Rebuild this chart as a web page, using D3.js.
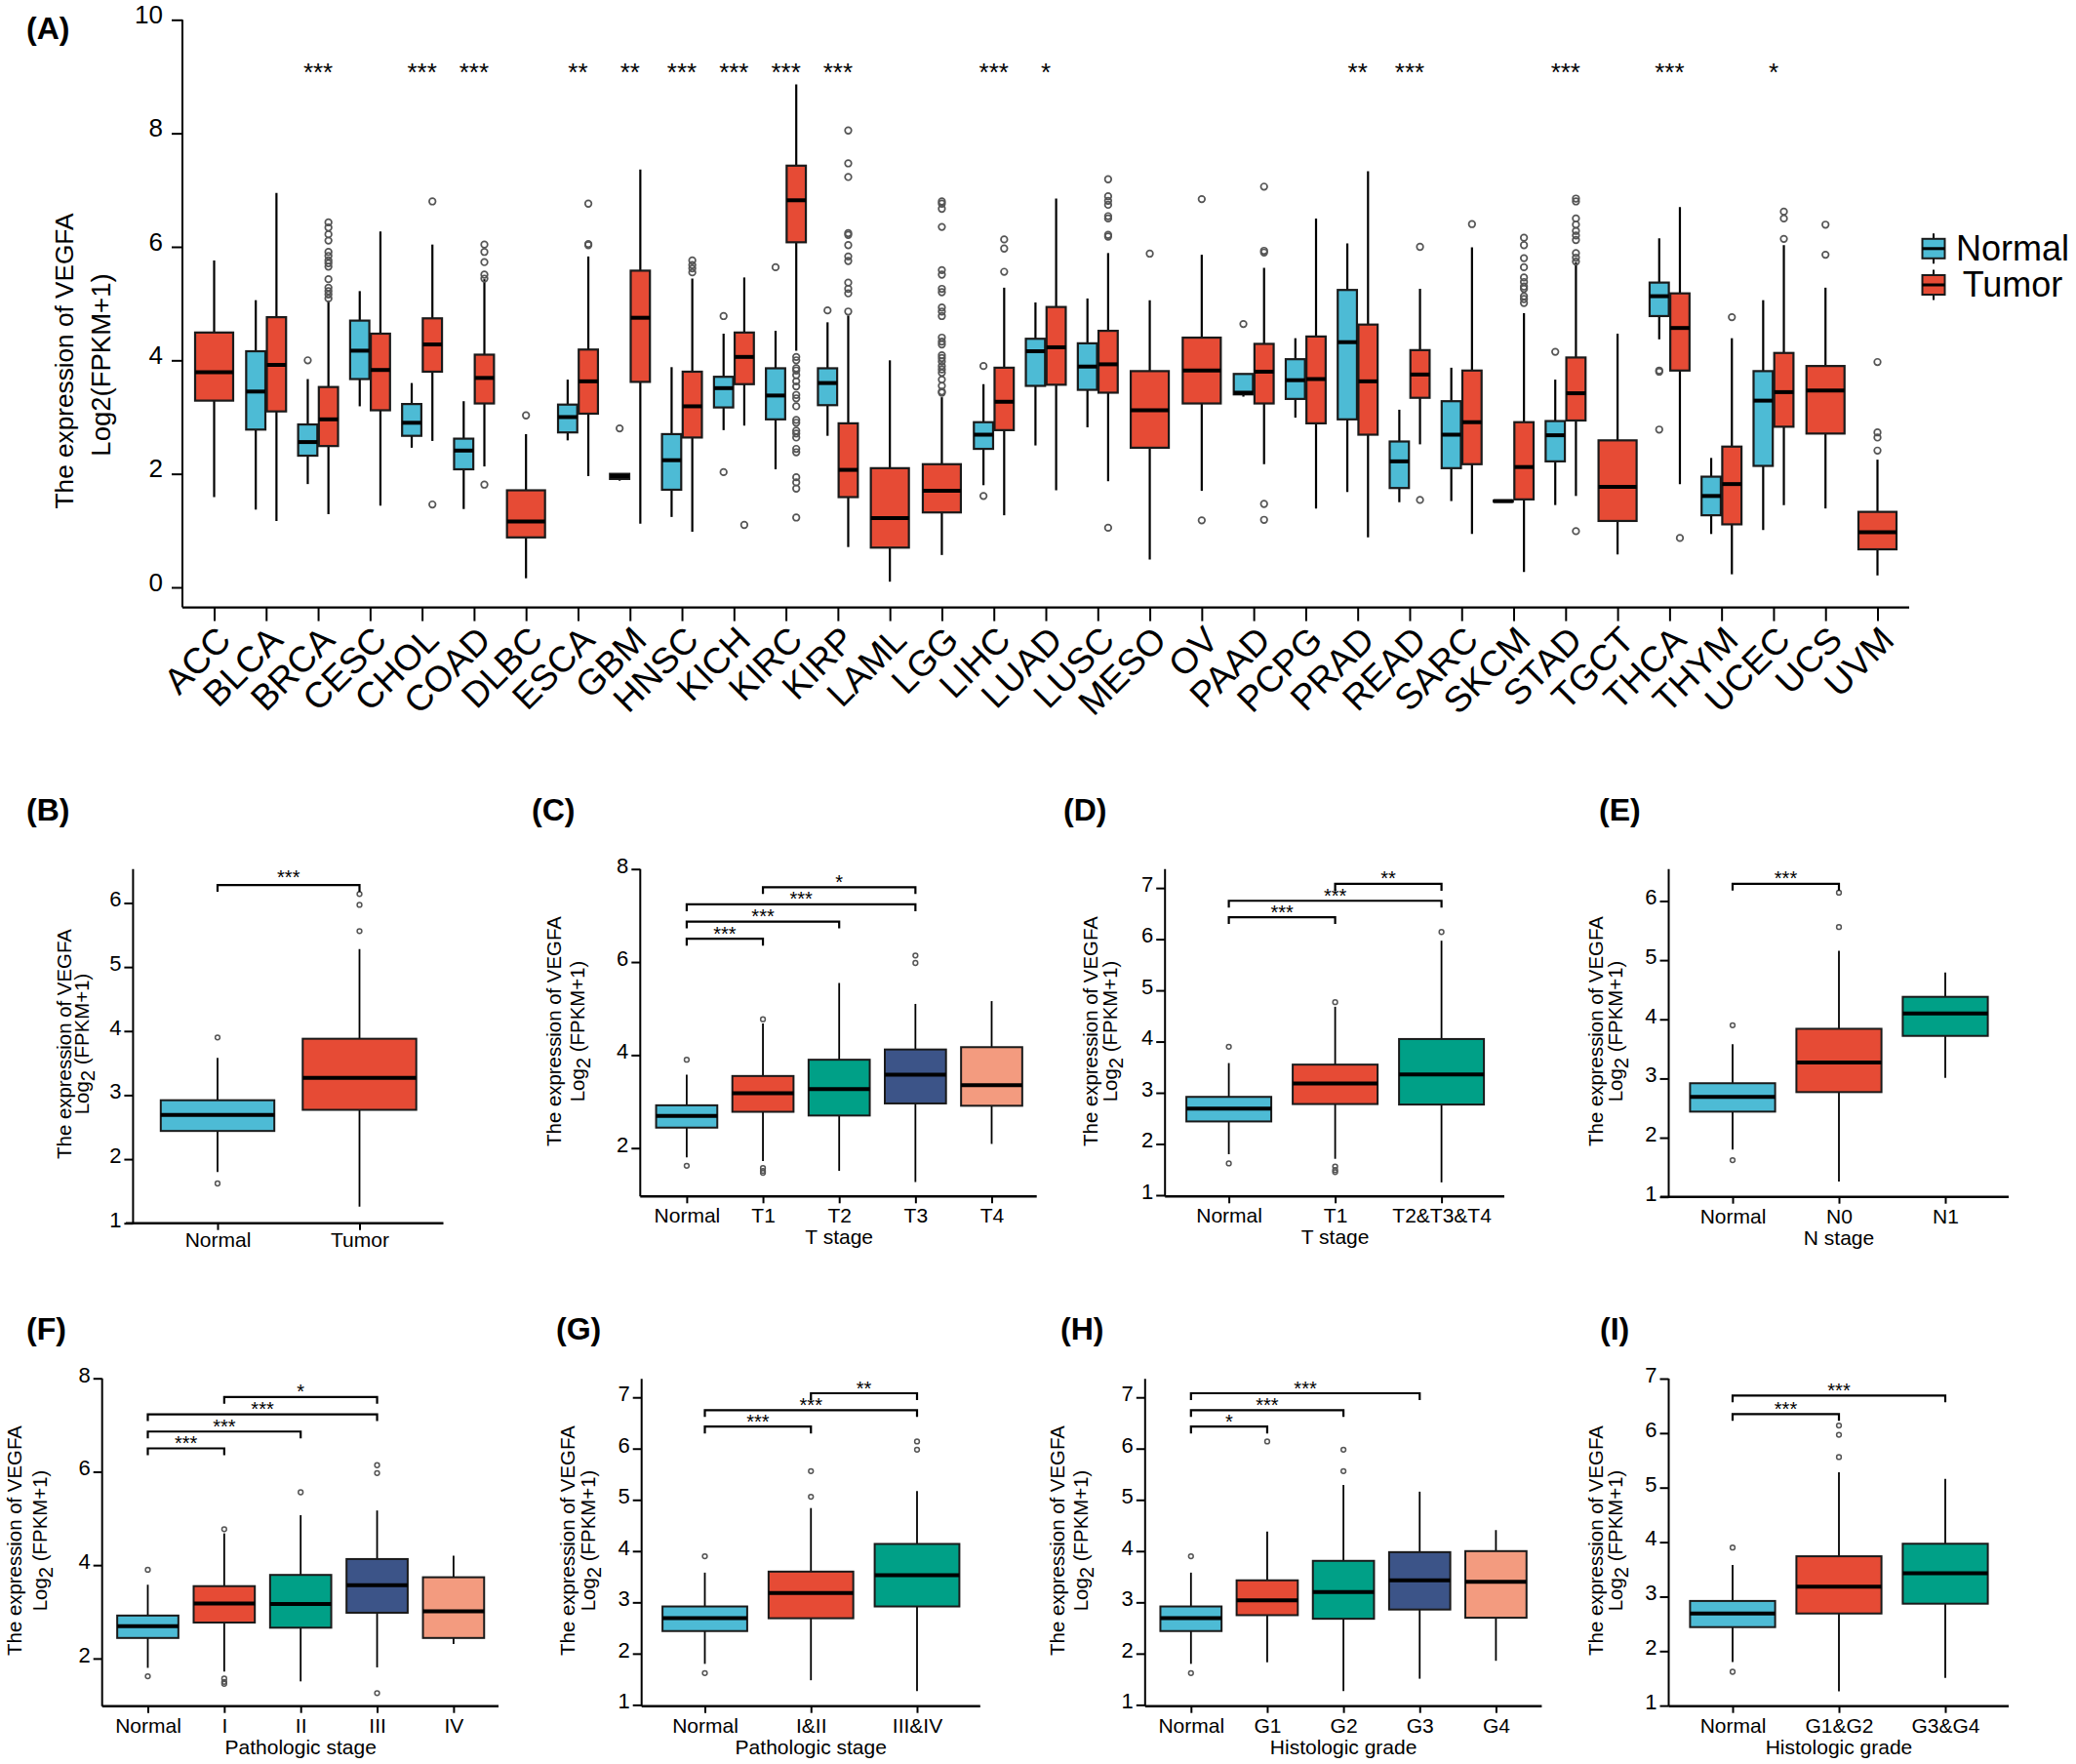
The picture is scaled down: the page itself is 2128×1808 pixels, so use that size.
<!DOCTYPE html>
<html lang="en">
<head>
  <meta charset="UTF-8">
  <title>VEGFA expression</title>
  <script src="https://d3js.org/d3.v7.min.js"></script>
  <style>
    body { margin: 0; background: #fff; }
    svg { display: block; font-family: "Liberation Sans", Arial, sans-serif; }
    .domain { display: none; }
    .tick line { stroke: #000; stroke-width: 2; }
    .tick text { fill: #000; }
  </style>
</head>
<body>
  <svg id="chart" width="2128" height="1808"></svg>
  <script>
    // box = [low whisker, q1, median, q3, high whisker, [outliers]]
    const cancers = ["ACC","BLCA","BRCA","CESC","CHOL","COAD","DLBC","ESCA","GBM","HNSC","KICH","KIRC","KIRP","LAML","LGG","LIHC","LUAD","LUSC","MESO","OV","PAAD","PCPG","PRAD","READ","SARC","SKCM","STAD","TGCT","THCA","THYM","UCEC","UCS","UVM"];
    const cancerStars = ["","","***","","***","***","","**","**","***","***","***","***","","","***","*","","","","","","**","***","","","***","","***","","*","",""];
    const cancerNormal = [
      null,
      [1.37,2.78,3.45,4.16,5.06,[]],
      [1.82,2.32,2.56,2.87,3.67,[4.0]],
      [3.19,3.67,4.17,4.70,5.22,[]],
      [2.46,2.67,2.90,3.23,3.60,[]],
      [1.38,2.08,2.41,2.62,3.28,[]],
      null,
      [2.59,2.73,3.00,3.22,3.66,[]],
      [1.88,1.91,1.96,2.00,2.00,[2.80]],
      [1.24,1.72,2.24,2.70,3.88,[]],
      [2.77,3.17,3.51,3.71,4.47,[4.78,2.03]],
      [2.08,2.96,3.38,3.86,4.52,[5.64]],
      [2.67,3.21,3.60,3.86,4.67,[4.88]],
      null,
      null,
      [1.80,2.44,2.69,2.91,3.58,[3.90,1.61]],
      [2.50,3.55,4.16,4.38,5.02,[]],
      [2.82,3.48,3.89,4.30,5.09,[]],
      null,
      null,
      [3.36,3.40,3.43,3.76,3.76,[4.64]],
      [2.99,3.32,3.65,4.02,4.39,[]],
      [1.68,2.96,4.32,5.24,6.06,[]],
      [1.50,1.75,2.22,2.57,3.13,[]],
      [1.52,2.10,2.69,3.28,3.87,[]],
      [1.50,1.51,1.52,1.53,1.54,[]],
      [1.45,2.22,2.68,2.93,3.66,[4.15]],
      null,
      [4.37,4.78,5.13,5.37,6.15,[3.82,3.80,2.78]],
      [0.94,1.27,1.61,1.95,2.28,[]],
      [1.01,2.14,3.29,3.81,5.06,[]],
      null,
      null
    ];
    const cancerTumor = [
      [1.59,3.29,3.79,4.49,5.76,[]],
      [1.17,3.10,3.92,4.76,6.95,[]],
      [1.29,2.49,2.96,3.53,5.05,[6.43,6.34,6.22,6.11,5.91,5.84,5.76,5.71,5.65,5.43,5.28,5.22,5.16,5.09]],
      [1.44,3.12,3.83,4.47,6.27,[]],
      [2.58,3.80,4.28,4.74,6.04,[6.80,1.46]],
      [2.13,3.24,3.69,4.10,5.43,[6.04,5.91,5.73,5.51,5.44,1.81]],
      [0.16,0.88,1.16,1.71,2.70,[3.03]],
      [1.96,3.06,3.63,4.19,5.83,[6.76,6.05,6.03]],
      [1.12,3.62,4.75,5.58,7.36,[]],
      [0.98,2.64,3.19,3.80,5.44,[5.76,5.68,5.62,5.55]],
      [2.85,3.58,4.06,4.49,5.46,[1.10]],
      [4.17,6.08,6.82,7.43,8.86,[4.06,4.00,3.86,3.82,3.74,3.63,3.54,3.39,3.33,3.19,2.95,2.90,2.76,2.71,2.64,2.44,2.38,1.94,1.85,1.74,1.23]],
      [0.71,1.59,2.07,2.89,4.79,[8.05,7.47,7.23,6.24,6.21,6.03,5.83,5.75,5.37,5.26,5.18,4.86]],
      [0.10,0.70,1.22,2.10,4.00,[]],
      [0.57,1.32,1.70,2.17,3.35,[6.80,6.76,6.67,6.35,5.59,5.51,5.26,5.20,4.93,4.86,4.78,4.40,4.33,4.28,4.09,4.04,3.98,3.90,3.84,3.78,3.66,3.55,3.45,3.43]],
      [1.27,2.77,3.27,3.87,5.28,[6.13,5.97,5.56]],
      [1.71,3.57,4.23,4.94,6.85,[]],
      [1.87,3.43,3.93,4.52,5.89,[7.19,6.89,6.81,6.74,6.54,6.50,6.21,6.18,1.05]],
      [0.49,2.46,3.12,3.81,5.06,[5.88]],
      [1.70,3.24,3.82,4.40,5.86,[6.84,1.18]],
      [2.17,3.24,3.80,4.29,5.63,[7.06,5.93,5.90,1.47,1.19]],
      [1.39,2.89,3.67,4.42,6.50,[]],
      [0.88,2.69,3.63,4.63,7.33,[]],
      [2.52,3.34,3.75,4.18,5.26,[6.00,1.54]],
      [0.94,2.17,2.91,3.82,5.99,[6.40]],
      [0.27,1.55,2.12,2.91,4.83,[6.16,6.03,5.80,5.64,5.46,5.38,5.30,5.26,5.13,5.08,5.01]],
      [1.61,2.94,3.42,4.05,5.73,[6.85,6.80,6.50,6.39,6.28,6.20,6.12,5.89,5.81,5.74,0.99]],
      [0.58,1.17,1.77,2.59,4.47,[]],
      [1.82,3.82,4.57,5.18,6.70,[0.87]],
      [0.23,1.11,1.82,2.48,4.39,[4.76]],
      [1.45,2.83,3.44,4.13,6.03,[6.62,6.50,6.14]],
      [1.39,2.71,3.47,3.90,5.28,[6.39,5.86]],
      [0.21,0.67,0.97,1.33,2.25,[3.97,2.73,2.64,2.41]]
    ];
    const cancerTicks = [0,2,4,6,8,10];
    const legendNames = ["Normal","Tumor"];

    const normalBox = [1.80,2.44,2.69,2.92,3.58,[3.90,1.62]];

    const panelBCats = ["Normal","Tumor"];
    const panelBBoxes = [normalBox,[1.26,2.77,3.27,3.88,5.28,[6.14,5.97,5.56]]];
    const panelBTicks = [1,2,3,4,5,6];
    const panelBBrackets = [[0,1,6.28,"***"]];

    const panelCCats = ["Normal","T1","T2","T3","T4"];
    const panelCBoxes = [normalBox,
      [1.72,2.78,3.18,3.55,4.68,[4.77,1.57,1.51,1.47]],
      [1.51,2.70,3.27,3.90,5.55,[]],
      [1.27,2.96,3.58,4.12,5.10,[6.14,5.98]],
      [2.09,2.91,3.35,4.17,5.16,[]]];
    const panelCTicks = [2,4,6,8];
    const panelCBrackets = [[0,1,6.50,"***"],[0,2,6.87,"***"],[0,3,7.24,"***"],[1,3,7.61,"*"]];

    const panelDCats = ["Normal","T1","T2&T3&T4"];
    const panelDBoxes = [normalBox,
      [1.71,2.78,3.18,3.55,4.68,[4.77,1.56,1.49,1.45]],
      [1.25,2.77,3.36,4.05,5.97,[6.14]]];
    const panelDTicks = [1,2,3,4,5,6,7];
    const panelDBrackets = [[0,1,6.43,"***"],[0,2,6.75,"***"],[1,2,7.08,"**"]];

    const panelECats = ["Normal","N0","N1"];
    const panelEBoxes = [normalBox,
      [1.26,2.77,3.27,3.84,5.16,[6.14,5.56]],
      [3.01,3.72,4.10,4.38,4.79,[]]];
    const panelETicks = [1,2,3,4,5,6];
    const panelEBrackets = [[0,1,6.29,"***"]];

    const panelFCats = ["Normal","I","II","III","IV"];
    const panelFBoxes = [normalBox,
      [1.72,2.77,3.18,3.55,4.68,[4.77,1.57,1.50,1.46]],
      [1.51,2.66,3.17,3.79,5.07,[5.56]],
      [1.81,2.98,3.57,4.13,5.17,[6.14,5.97,1.26]],
      [2.31,2.44,3.01,3.74,4.20,[]]];
    const panelFTicks = [2,4,6,8];
    const panelFBrackets = [[0,1,6.50,"***"],[0,2,6.86,"***"],[0,3,7.23,"***"],[1,3,7.60,"*"]];

    const panelGCats = ["Normal","I&II","III&IV"];
    const panelGBoxes = [normalBox,
      [1.48,2.69,3.18,3.60,4.84,[5.56,5.06]],
      [1.27,2.92,3.53,4.14,5.17,[6.14,5.98]]];
    const panelGTicks = [1,2,3,4,5,6,7];
    const panelGBrackets = [[0,1,6.43,"***"],[0,2,6.75,"***"],[1,2,7.08,"**"]];

    const panelHCats = ["Normal","G1","G2","G3","G4"];
    const panelHBoxes = [normalBox,
      [1.83,2.75,3.04,3.43,4.38,[6.14]],
      [1.27,2.68,3.20,3.81,5.29,[5.98,5.56]],
      [1.51,2.86,3.43,3.98,5.16,[]],
      [1.86,2.70,3.40,4.00,4.41,[]]];
    const panelHTicks = [1,2,3,4,5,6,7];
    const panelHBrackets = [[0,1,6.43,"*"],[0,2,6.75,"***"],[0,3,7.08,"***"]];

    const panelICats = ["Normal","G1&G2","G3&G4"];
    const panelIBoxes = [normalBox,
      [1.26,2.69,3.18,3.74,5.28,[6.14,5.97,5.56]],
      [1.51,2.87,3.43,3.97,5.16,[]]];
    const panelITicks = [1,2,3,4,5,6,7];
    const panelIBrackets = [[0,1,6.35,"***"],[0,2,6.69,"***"]];

    const blue = "#4DBBD5", red = "#E64B35", green = "#00A087", navy = "#3C5488", salmon = "#F39B7F";
    const fiveFills = [blue, red, green, navy, salmon];
    const svg = d3.select("#chart");

    function drawBox(g, x, w, b, fill, y, s) {
      const [lo, q1, med, q3, hi, outs] = b;
      g.append("line").attr("x1", x).attr("x2", x).attr("y1", y(lo)).attr("y2", y(hi))
        .attr("stroke", "#000").attr("stroke-width", s.whisker);
      g.append("rect").attr("x", x - w / 2).attr("width", w)
        .attr("y", y(q3)).attr("height", y(q1) - y(q3))
        .attr("fill", fill).attr("stroke", "#1a1a1a").attr("stroke-width", s.box);
      g.append("line").attr("x1", x - w / 2).attr("x2", x + w / 2).attr("y1", y(med)).attr("y2", y(med))
        .attr("stroke", "#000").attr("stroke-width", s.median);
      g.selectAll(null).data(outs).enter().append("circle")
        .attr("cx", x).attr("cy", d => y(d)).attr("r", s.r)
        .attr("fill", "none").attr("stroke", "#555").attr("stroke-width", s.out);
    }

    function spines(g, axisX, left, right, top, bottom) {
      g.append("line").attr("x1", axisX).attr("x2", axisX).attr("y1", top).attr("y2", bottom)
        .attr("stroke", "#000").attr("stroke-width", 2);
      g.append("line").attr("x1", left).attr("x2", right).attr("y1", bottom).attr("y2", bottom)
        .attr("stroke", "#000").attr("stroke-width", 2.4);
    }

    function panelLabel(text, x, y) {
      svg.append("text").attr("x", x).attr("y", y).attr("font-size", 32).attr("font-weight", "bold").text(text);
    }

    // panel A
    function drawCancerPanel() {
      const g = svg.append("g");
      const y = d3.scaleLinear().domain([0, 10]).range([602, 20.3]);
      const x = d3.scalePoint().domain(cancers).range([219.5, 1924.5]);
      const style = { whisker: 2.2, box: 2.2, median: 4, r: 3.3, out: 1.7 };

      g.append("g").attr("transform", "translate(187,0)")
        .call(d3.axisLeft(y).tickValues(cancerTicks).tickFormat(d3.format("d")).tickSize(11).tickPadding(9))
        .selectAll("text").attr("font-size", 26).attr("font-family", "inherit").attr("dy", "0.12em");
      g.append("g").attr("transform", "translate(0,622.6)")
        .call(d3.axisBottom(x).tickSize(14).tickFormat(""));
      spines(g, 187, 187, 1957, 20.3, 622.6);

      cancers.forEach((c, i) => {
        const n = cancerNormal[i], t = cancerTumor[i];
        if (n) {
          drawBox(g, x(c) - 10.6, 19.7, n, blue, y, style);
          drawBox(g, x(c) + 10.6, 19.7, t, red, y, style);
        } else {
          drawBox(g, x(c), 39, t, red, y, style);
        }
        if (cancerStars[i]) {
          g.append("text").attr("x", x(c)).attr("y", 82.5).attr("text-anchor", "middle")
            .attr("font-size", 26).text(cancerStars[i]);
        }
        g.append("text").attr("text-anchor", "end").attr("font-size", 37)
          .attr("transform", `translate(${x(c) + 10},${649}) rotate(-45)`)
          .attr("dy", "0.35em").text(c);
      });

      g.append("text").attr("transform", "translate(75,370) rotate(-90)").attr("text-anchor", "middle")
        .attr("font-size", 26.2).text("The expression of VEGFA");
      g.append("text").attr("transform", "translate(113,374) rotate(-90)").attr("text-anchor", "middle")
        .attr("font-size", 27.5).text("Log2(FPKM+1)");

      const legendY = d3.scalePoint().domain(legendNames).range([254.8, 292]);
      legendNames.forEach((name, i) => {
        const cy = legendY(name);
        g.append("line").attr("x1", 1982).attr("x2", 1982).attr("y1", cy - 15.5).attr("y2", cy + 15.5)
          .attr("stroke", "#000").attr("stroke-width", 2);
        g.append("rect").attr("x", 1970.5).attr("width", 23).attr("y", cy - 10).attr("height", 20)
          .attr("fill", i ? red : blue).attr("stroke", "#1a1a1a").attr("stroke-width", 2);
        g.append("line").attr("x1", 1970.5).attr("x2", 1993.5).attr("y1", cy).attr("y2", cy)
          .attr("stroke", "#000").attr("stroke-width", 3);
        g.append("text").attr("x", 2063).attr("y", cy + 12).attr("text-anchor", "middle")
          .attr("font-size", 36).text(name);
      });
    }

    function drawSmallPanel(p) {
      const g = svg.append("g");
      const y = d3.scaleLinear().domain(p.domain).range([p.bottom, p.top]);
      const x = d3.scalePoint().domain(p.cats).range(p.xRange);
      const style = { whisker: 1.8, box: 2, median: 4, r: 2.4, out: 1.5 };

      g.append("g").attr("transform", `translate(${p.axisX},0)`)
        .call(d3.axisLeft(y).tickValues(p.ticks).tickFormat(d3.format("d")).tickSize(9).tickPadding(3))
        .selectAll("text").attr("font-size", 22).attr("font-family", "inherit").attr("dy", "0.15em");
      const xAxis = g.append("g").attr("transform", `translate(0,${p.bottom})`)
        .call(d3.axisBottom(x).tickSize(7).tickPadding(p.labelPad || 5));
      xAxis.selectAll("text").attr("font-size", 21).attr("font-family", "inherit");
      spines(g, p.axisX, p.left || p.axisX, p.right, p.top, p.bottom);

      p.cats.forEach((c, i) => drawBox(g, x(c), p.boxW, p.boxes[i], (p.fills || fiveFills)[i], y, style));

      p.brackets.forEach(([from, to, level, mark]) => {
        const x1 = x(p.cats[from]), x2 = x(p.cats[to]), by = y(level);
        g.append("path").attr("d", `M${x1},${by + 7}V${by}H${x2}V${by + 7}`)
          .attr("fill", "none").attr("stroke", "#000").attr("stroke-width", 2.2);
        g.append("text").attr("x", (x1 + x2) / 2).attr("y", by + (p.starDrop === undefined ? 1.5 : p.starDrop))
          .attr("text-anchor", "middle").attr("font-size", 20).text(mark);
      });

      if (p.xTitle) {
        g.append("text").attr("x", x(p.cats[(p.cats.length - 1) / 2])).attr("y", p.bottom + 49)
          .attr("text-anchor", "middle").attr("font-size", 21).text(p.xTitle);
      }
      g.append("text").attr("transform", `translate(${p.titleX[0]},${p.titleY}) rotate(-90)`)
        .attr("text-anchor", "middle").attr("dy", "0.35em").attr("font-size", 20.4).text("The expression of VEGFA");
      const sub = g.append("text").attr("transform", `translate(${p.titleX[1]},${p.titleY}) rotate(-90)`)
        .attr("text-anchor", "middle").attr("dy", "0.35em").attr("font-size", 20.4);
      sub.append("tspan").text("Log");
      sub.append("tspan").attr("dy", 6).text("2");
      sub.append("tspan").attr("dy", -6).text(" (FPKM+1)");
    }

    drawCancerPanel();

    drawSmallPanel({ cats: panelBCats, boxes: panelBBoxes, ticks: panelBTicks, brackets: panelBBrackets,
      domain: [1, 6.53], top: 890.7, bottom: 1253.7, axisX: 136.4, left: 129, right: 454.5, xRange: [223, 368.5], boxW: 116.4,
      labelPad: 2, starDrop: -1, titleX: [65.4, 84], titleY: 1070 });
    drawSmallPanel({ cats: panelCCats, boxes: panelCBoxes, ticks: panelCTicks, brackets: panelCBrackets, xTitle: "T stage",
      domain: [0.96, 8], top: 890.7, bottom: 1226.3, axisX: 656.3, right: 1062.7, xRange: [703.9, 1016.5], boxW: 62.7,
      titleX: [568, 592], titleY: 1057 });
    drawSmallPanel({ cats: panelDCats, boxes: panelDBoxes, ticks: panelDTicks, brackets: panelDBrackets, xTitle: "T stage",
      domain: [0.975, 7.37], top: 890.7, bottom: 1226.3, axisX: 1194.2, right: 1542, xRange: [1259.6, 1477.6], boxW: 87,
      titleX: [1118, 1138], titleY: 1057 });
    drawSmallPanel({ cats: panelECats, boxes: panelEBoxes, ticks: panelETicks, brackets: panelEBrackets, xTitle: "N stage",
      domain: [1, 6.54], top: 890.7, bottom: 1226.7, axisX: 1710.5, left: 1702, right: 2059, xRange: [1776, 1994], boxW: 87.2,
      titleX: [1635.6, 1656], titleY: 1057 });
    drawSmallPanel({ cats: panelFCats, boxes: panelFBoxes, ticks: panelFTicks, brackets: panelFBrackets, xTitle: "Pathologic stage",
      domain: [0.98, 8], top: 1412.7, bottom: 1748.7, axisX: 104.7, right: 511, xRange: [151.5, 464.9], boxW: 62.7,
      titleX: [15, 41], titleY: 1579 });
    drawSmallPanel({ cats: panelGCats, boxes: panelGBoxes, ticks: panelGTicks, brackets: panelGBrackets, xTitle: "Pathologic stage",
      domain: [0.975, 7.36], top: 1413.3, bottom: 1748.7, axisX: 657.7, right: 1004.8, xRange: [722.5, 940], boxW: 86.8,
      titleX: [582, 602.6], titleY: 1579 });
    drawSmallPanel({ cats: panelHCats, boxes: panelHBoxes, ticks: panelHTicks, brackets: panelHBrackets, xTitle: "Histologic grade",
      domain: [0.975, 7.36], top: 1413.3, bottom: 1748.7, axisX: 1173.8, right: 1580.4, xRange: [1220.8, 1533.4], boxW: 62.7,
      titleX: [1084, 1108], titleY: 1579 });
    drawSmallPanel({ cats: panelICats, boxes: panelIBoxes, ticks: panelITicks, brackets: panelIBrackets, xTitle: "Histologic grade",
      domain: [0.99, 7], top: 1413, bottom: 1748.7, axisX: 1710.5, right: 2059, xRange: [1776, 1994], boxW: 87.2,
      titleX: [1635.6, 1656], titleY: 1579 });

    panelLabel("(A)", 27, 40);
    panelLabel("(B)", 27, 841); panelLabel("(C)", 545, 841); panelLabel("(D)", 1090, 841); panelLabel("(E)", 1639, 841);
    panelLabel("(F)", 27, 1373); panelLabel("(G)", 570, 1373); panelLabel("(H)", 1087, 1373); panelLabel("(I)", 1640, 1373);
  </script>
</body>
</html>
